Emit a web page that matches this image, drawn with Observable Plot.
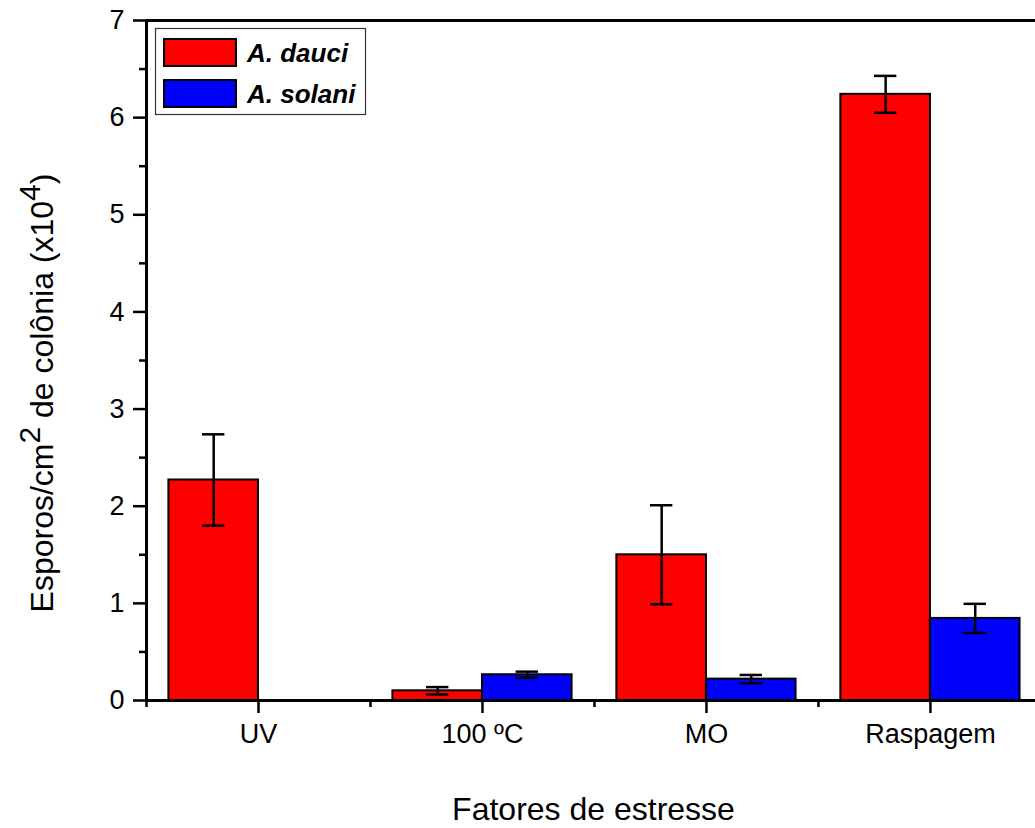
<!DOCTYPE html>
<html>
<head>
<meta charset="utf-8">
<script src="https://cdn.jsdelivr.net/npm/d3@7"></script>
<script src="https://cdn.jsdelivr.net/npm/@observablehq/plot@0.6"></script>
<style>
  html, body { margin: 0; padding: 0; background: #fff; }
  #chart { width: 1035px; height: 828px; }
</style>
</head>
<body>
<div id="chart"></div>
<script>
// ---- data ----
const categories = ["UV", "100 ºC", "MO", "Raspagem"];
const seriesNames = ["A. dauci", "A. solani"];
const seriesColors = ["#ff0000", "#0000ff"];
const dauciMean = [2.27, 0.10, 1.50, 6.24];
const dauciErr = [0.47, 0.038, 0.51, 0.19];
const solaniMean = [null, 0.265, 0.22, 0.845];
const solaniErr = [null, 0.032, 0.043, 0.15];
const yTicks = [0, 1, 2, 3, 4, 5, 6, 7];
const yMinorTicks = [0.5, 1.5, 2.5, 3.5, 4.5, 5.5, 6.5];
const xTitle = "Fatores de estresse";

// ---- table built from the arrays ----
const barW = 0.4;
const rows = [];
categories.forEach((c, i) => {
  [[dauciMean, dauciErr], [solaniMean, solaniErr]].forEach(([m, e], s) => {
    if (m[i] == null) return;
    const left = (i + 1) - barW + s * barW;
    rows.push({
      cat: c, series: seriesNames[s], mean: m[i], err: e[i],
      x1: left, x2: left + barW, xc: left + barW / 2
    });
  });
});
const catPos = categories.map((c, i) => i + 1);
const catMinor = categories.map((c, i) => i + 0.5);

const W = 1035, H = 828;
const plot = Plot.plot({
  width: W, height: H,
  marginLeft: 146, marginRight: 0, marginTop: 20, marginBottom: 128,
  style: { fontFamily: "'Liberation Sans', Arial, sans-serif", fontSize: "26px", color: "#000", background: "#fff" },
  x: { type: "linear", domain: [0.5, 4.469], axis: null },
  y: { domain: [0, 7], axis: null },
  color: { domain: seriesNames, range: seriesColors },
  marks: [
    Plot.rect(rows, { x1: "x1", x2: "x2", y1: 0, y2: "mean", fill: "series", stroke: "#000", strokeWidth: 2 }),
    Plot.ruleX(rows, { x: "xc", y1: d => d.mean - d.err, y2: d => d.mean + d.err, stroke: "#000", strokeWidth: 2.5 }),
    Plot.ruleY(rows, { y: d => d.mean + d.err, x1: d => d.xc - 0.05, x2: d => d.xc + 0.05, stroke: "#000", strokeWidth: 2.5 }),
    Plot.ruleY(rows, { y: d => d.mean - d.err, x1: d => d.xc - 0.05, x2: d => d.xc + 0.05, stroke: "#000", strokeWidth: 2.5 }),
    // axes
    Plot.axisY({ ticks: yTicks, tickSize: 13, tickPadding: 9, fontSize: 27, strokeWidth: 2.5, label: null, tickFormat: d => String(d) }),
    Plot.axisY({ ticks: yMinorTicks, tickSize: 7, strokeWidth: 2.5, label: null, tickFormat: () => "" }),
    Plot.axisX({ ticks: catPos, tickSize: 13, tickPadding: 10, fontSize: 27, strokeWidth: 2.5, label: null, tickFormat: d => categories[d - 1] }),
    Plot.axisX({ ticks: catMinor, tickSize: 7, strokeWidth: 2.5, label: null, tickFormat: () => "" }),
    Plot.ruleY([0], { stroke: "#000", strokeWidth: 3 }),
    Plot.ruleY([7], { stroke: "#000", strokeWidth: 3 }),
    Plot.ruleX([0.5], { stroke: "#000", strokeWidth: 3 })
  ]
});
document.getElementById("chart").appendChild(plot);

// ---- titles and legend added to the SVG ----
const svg = d3.select(plot.tagName.toLowerCase() === "svg" ? plot : plot.querySelector("svg"));
const font = "'Liberation Sans', Arial, sans-serif";

// x title
svg.append("text")
  .attr("x", (146 + W) / 2 + 3).attr("y", 820)
  .attr("text-anchor", "middle")
  .style("font-family", font).style("font-size", "32px").attr("fill", "#000")
  .text(xTitle);

// y title with superscripts
const yt = svg.append("text")
  .attr("transform", "translate(53,393) rotate(-90)")
  .attr("text-anchor", "middle")
  .style("font-family", font).style("font-size", "32px").attr("fill", "#000");
yt.append("tspan").text("Esporos/cm");
yt.append("tspan").attr("dy", -13).style("font-size", "30px").text("2");
yt.append("tspan").attr("dy", 13).text(" de colônia (x10");
yt.append("tspan").attr("dy", -13).style("font-size", "30px").text("4");
yt.append("tspan").attr("dy", 13).text(")");

// legend
const lg = svg.append("g");
lg.append("rect").attr("x", 155.5).attr("y", 28.5).attr("width", 210).attr("height", 86)
  .attr("fill", "#fff").attr("stroke", "#333").attr("stroke-width", 1.2);
seriesNames.forEach((name, i) => {
  lg.append("rect").attr("x", 164).attr("y", 39 + i * 41).attr("width", 72).attr("height", 27)
    .attr("fill", seriesColors[i]).attr("stroke", "#000").attr("stroke-width", 2);
  lg.append("text").attr("x", 247).attr("y", 62 + i * 41)
    .attr("text-anchor", "start")
    .style("font-family", font).style("font-size", "26px").style("font-weight", "bold").style("font-style", "italic")
    .attr("fill", "#000").text(name);
});
</script>
</body>
</html>
